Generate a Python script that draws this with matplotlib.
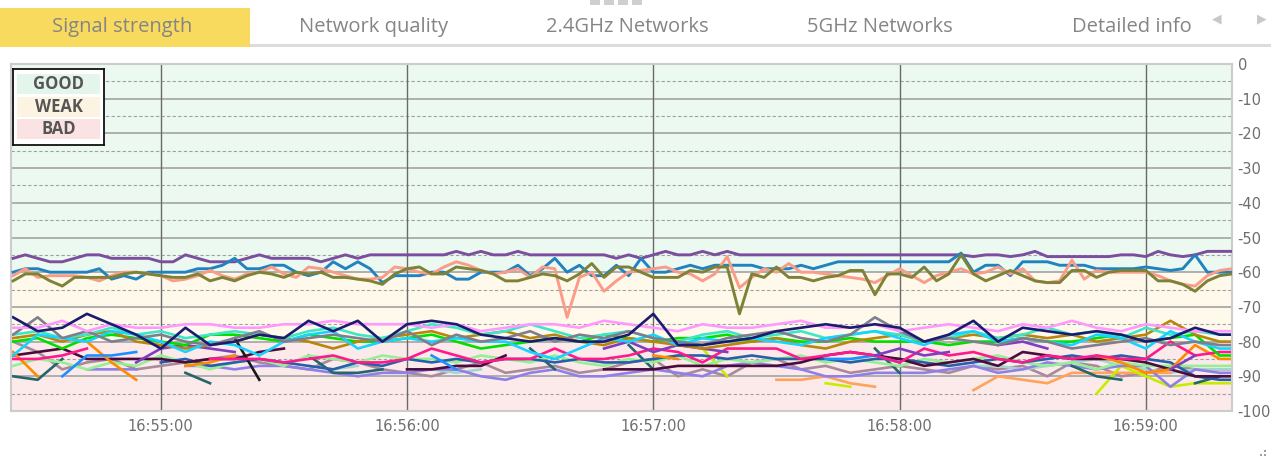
import numpy as np
import pandas as pd
import matplotlib
matplotlib.use("Agg")
import matplotlib.pyplot as plt
import matplotlib.dates as mdates
from matplotlib.patches import Rectangle

nan = np.nan

# tabs across the top
tab_labels = ["Signal strength", "Network quality", "2.4GHz Networks", "5GHz Networks", "Detailed info"]
tab_centers = [122, 374, 627, 880, 1132]

# signal bands (dBm)
band_names = ["GOOD", "WEAK", "BAD"]
band_edges = [0, -60, -80, -100]
band_colors = ["#ebf9f1", "#fef9eb", "#fceaea"]
legend_colors = ["#e4f5ec", "#fdf3e2", "#fbe3e3"]

# time axis
t_fast = pd.date_range("2024-01-01 16:54:24", periods=100, freq="3s")
t_slow = pd.date_range("2024-01-01 16:54:24", periods=51, freq="6s")
minute_ticks = pd.date_range("2024-01-01 16:55:00", periods=5, freq="60s")
x_left = pd.Timestamp("2024-01-01 16:54:23.5")
x_right = pd.Timestamp("2024-01-01 16:59:21")
y_ticks = [0, -10, -20, -30, -40, -50, -60, -70, -80, -90, -100]

# strong networks, sampled every 3 s
purple = [-56, -55, -56, -57, -57, -56, -55, -55, -56, -56, -56, -56, -57, -57, -55, -56, -57, -57, -57, -56,
          -55, -56, -56, -56, -56, -57, -56, -55, -56, -55, -55, -55, -55, -55, -55, -55, -54, -55, -54, -55,
          -55, -54, -55, -55, -55, -55, -55, -55, -55, -56, -55, -56, -55, -54, -55, -55, -54, -55, -54, -55,
          -55, -55, -55, -55, -55, -55, -55, -55, -55, -55, -55, -55, -55, -55, -55, -55, -55, -55, -55.5, -55,
          -55, -55.5, -55, -54, -55.5, -55.5, -55.5, -55.5, -55.5, -55.5, -55, -55, -55.5, -54, -55, -55.5, -55, -54, -54, -54]
blue = [-60, -59, -59, -60, -60, -60, -60, -59, -62, -61, -62, -60, -60, -60, -60, -59, -59, -58, -56, -59,
        -59, -58, -58, -60, -61, -60, -57, -59, -57, -59, -63, -61, -61, -61, -60, -60, -62, -62, -60, -60,
        -60, -58, -61, -59, -56, -60, -58, -61, -61, -58, -61, -56, -60, -60, -59, -58, -59, -58, -58, -58,
        -58, -59, -59, -59, -58, -59, -58, -57, -57, -57, -57, -57, -57, -57, -57, -57, -57, -54.5, -60, -58,
        -58, -61, -57, -57, -57, -58, -58, -58, -59, -59, -59, -59, -58.5, -59, -59.5, -59, -55, -60, -60, -60]
salmon = [-61, -59, -61.5, -61, -61, -61, -61.5, -62.5, -61, -60, -60, -60.5, -61, -62.5, -62, -61, -59.5, -61, -62, -60.5,
          -60, -58.5, -60.5, -61.5, -58.5, -59, -60, -61, -62, -62, -61.5, -58.5, -59, -60, -60.5, -58.5, -57, -58, -59.5, -60.5,
          -60, -59, -61.5, -58.5, -59, -73, -61.5, -60, -65.5, -62.5, -60, -59.5, -59, -58.5, -60, -60.5, -62.5, -60.5, -55.5, -64.5,
          -61.5, -59, -60, -57.5, -60, -60, -60.5, -61, -61.5, -62, -63, -61, -59, -61, -63, -61, -60, -59, -60.5, -60,
          -58.5, -60.5, -59, -62.5, -63, -62.5, -56.5, -62, -59.5, -60, -60, -60, -60, -61, -62.5, -63.5, -64, -61, -59.5, -59]
olive = [-62.5, -60.5, -60.5, -62.5, -64, -61.5, -61.5, -61.5, -61.5, -60.5, -60, -60.5, -61, -61.5, -61.5, -60.5, -62.5, -61.5, -62.5, -61,
         -60, -60.5, -61.5, -60, -60.5, -60, -61.5, -61.5, -62, -62.5, -63.5, -60.5, -59, -58.5, -60.5, -60.5, -58.5, -59, -59.5, -60.5,
         -62.5, -62.5, -61.5, -60.5, -61, -62.5, -60.5, -57.5, -61.5, -58.5, -58.5, -60, -61.5, -61.5, -61.5, -59.5, -60, -58.5, -58.5, -72,
         -60.5, -61.5, -58.5, -61.5, -61.5, -62.5, -61.5, -61, -59.5, -59.5, -66.5, -60.5, -60.5, -61.5, -58.5, -62.5, -60.5, -55, -60.5, -62.5,
         -61, -59.5, -61, -62.5, -63, -63, -59.5, -59.5, -61.5, -60, -59.5, -59.5, -59.5, -62.5, -62.5, -63.5, -65.5, -62.5, -61, -60.5]

# weak networks, sampled every 6 s
navy = [-73, -77, -76, -72, -75, -78, -82, -76, -81, -80, -78, -79, -74, -77, -74, -80, -75, -74, -75, -78, -79, -80, -79, -80, -80, -78,
        -72, -81, -81, -80, -79, -77, -76, -75, -76, -75, -76, -80, -78, -74, -80, -76, -77, -78, -77, -78, -80, -79, -76, -78, -78]
gray = [-78, -73, -79, -77, -80, -79, -78, -80, -81, -79, -77, -80, -79, -78, -79, -80, -77, -81, -78, -80, -79, -77, -80, -78, -79, -77,
        -79, -80, -81, -79, -78, -77, -79, -80, -78, -73, -77, -80, -79, -80, -81, -79, -80, -82, -81, -80, -79, -81, -80, -81, -81]
violet = [-76, -76, -74, -77, -75, -76, -76, -75, -75, -76, -76, -75, -75, -74, -75, -75, -75, -76, -75, -77, -76, -75, -75, -76, -74, -75,
          -76, -77, -75, -76, -76, -75, -74, -76, -76, -75, -77, -76, -75, -76, -77, -75, -76, -74, -76, -77, -75, -76, -77, -77, -77]
gold = [-79, -78, -80, -78, -77, -80, -81, -82, -81, -80, -78, -79, -80, -82, -80, -79, -78, -77, -79, -78, -77, -79, -78, -80, -81, -79,
        -80, -81, -82, -81, -80, -79, -81, -82, -80, -79, -78, -80, -79, -78, -79, -78, -79, -78, -80, -79, -78, -74, -78, -80, -80]
cyan = [-84, -78, -79, -80, -77, -78, -80, -83, -80, -81, -84, -80, -78, -77, -82, -80, -79, -80, -79, -80, -80, -83, -85, -82, -79, -80,
        -78, -81, -79, -80, -79, -80, -81, -79, -78, -77, -79, -81, -78, -77, -80, -79, -80, -81, -78, -79, -82, -77, -80, -82, -82]
lime = [-80, -79, -82, -79, -78, -79, -80, -81, -78, -78, -79, -80, -78, -79, -80, -80, -79, -78, -80, -82, -81, -80, -79, -80, -78, -79,
        -80, -79, -79, -78, -80, -79, -80, -80, -79, -80, -80, -80, -81, -80, -80, -79, -80, -80, -79, -78, -80, -79, -78, -84, -84]
turquoise = [-78, -77, -79, -78, -76, -78, -77, -79, -78, -77, -78, -79, -77, -76, -78, -79, -77, -75, -76, -78, -77, -75, -77, -79, -78, -77,
             -79, -80, -78, -77, -79, -78, -77, -79, -78, -77, -78, -80, -79, -77, -79, -78, -76, -78, -77, -79, -76, -78, -77, -78, -78]
hotpink = [-85, -85, -84, -82, nan, nan, nan, nan, -85, -85, -85, -86, -85, -84, -86, -86, -85, -82, -84, -86, -85, -85, -82, -85, -85, -84,
           -82, -83, -86, -82, -82, -82, -85, -84, -83, -84, -86, -82, -84, -83, -85, -86, -84, -85, -84, -85, -85, -80, -84, -83, -83]
maroon = [-84, -83, -82, -85, -85, -85, -85, -86, -85, -85, -83, -82, nan, nan, nan, nan, -88, -88, -87, -87, -84, nan, nan, nan, -88, -88,
          -88, -87, -87, -87, -87, -87, -86, -84, -83, -84, -85, -87, -86, -85, -87, -83, -84, -85, -85, -85, -86, -88, -90, -90, -90]
orange = [-83, -90, nan, -80, -86, -91, nan, -87, -86, -84, nan, nan, nan, nan, nan, nan, nan, nan, nan, nan, nan, nan, nan, nan, nan, nan,
          -84, -85, nan, nan, nan, nan, nan, nan, nan, nan, nan, nan, nan, nan, nan, nan, nan, nan, -84, -86, -89, -88, -81, -85, -85]
palegreen = [-87, -85, -86, -88, -86, -87, -84, -86, -88, -86, -85, -87, -84, -85, -86, -84, -85, -85, -86, -84, -85, -86, -84, -86, -87, -85,
             -86, -84, -87, -85, -86, -85, -84, -86, -85, -86, -87, -85, -86, -85, -84, -86, -87, -86, -88, -86, -87, -87, -87, -87, -87]
medpurple = [nan, nan, nan, -88, -88, -88, nan, -87, -87, -88, -87, -87, -88, -89, -90, -89, -89, -88, -88, -90, -91, -89, -88, -90, -90, -89,
             -88, -89, -90, -87, -86, -87, -88, -90, -90, -89, -89, -89, -88, -87, -89, -88, -86, -87, -88, -87, -87, -93, -88, -89, -89]
steel = [nan, nan, nan, nan, nan, nan, -86, -85, -87, -86, -85, -86, -87, -88, -86, -87, -85, -86, -85, -86, -85, -85, -86, -85, -86, -86,
         -85, -84, -84, -85, -84, -85, -85, -85, -86, -85, -85, -86, -87, -86, -85, -86, -85, -84, -85, -84, -85, -86, -90, -91, -91]
teal = [-90, -91, -85, nan, nan, nan, nan, -89, -92, nan, nan, nan, -84, -89, -89, -88, nan, nan, nan, nan, nan, -82, -88, nan, nan, -81,
        -88, nan, nan, nan, nan, nan, nan, nan, nan, -82, -89, nan, nan, nan, nan, nan, nan, -87, -90, -91, nan, nan, -92, -90, nan]
rosy = [-80, -83, -88, -86, -85, -88, -87, -86, -85, -84, -86, -87, -88, -85, -86, -88, -89, -90, -88, -86, -89, -88, -87, -89, -88, -86,
        -85, -90, -88, -90, -86, -85, -88, -87, -89, -88, -87, -88, -89, -87, -88, -87, -90, -86, -87, -90, -89, -87, -88, -88, -88]
paleturq = [nan, nan, nan, nan, nan, nan, nan, nan, nan, nan, nan, nan, -87, -88, -87, nan, -88, -88, -89, -88, nan, nan, nan, nan, nan, nan,
            nan, nan, nan, nan, nan, nan, nan, nan, nan, nan, nan, nan, nan, -87, -87, -88, -87, -86, -85, -87, -88, -89, -88, -88, -88]
sandy = [nan] * 31 + [-91, -91, -90, -92, -93, nan, nan, nan, -94, -90, -91, -92, -89, -89, -89, -89, -89, nan, nan, nan]
yellowgreen = [nan] * 28 + [-82, -90, nan, nan, nan, -92, -93, nan, nan, nan, nan, nan, nan, nan, nan, nan,
                            -95, -87, -90, -93, -92, -92, -92]
dodger = [nan, nan, -90, -84, -84, -83] + [nan] * 11 + [-84, -88] + [nan] * 14 + [-85, -85, -84, -86] + [nan] * 14
black = [nan] * 9 + [-79, -91] + [nan] * 40
darkviolet = ([nan] * 5 + [-86, -82, -81, -82, -83] + [nan] * 14 + [-82, -80, -83, -81, -82, -83] + [nan] * 5
              + [-84, -82, -84, -83] + [nan] + [-81, -80, -82] + [nan] * 4 + [-88, -84, nan, nan])

strong = [(purple, "#7b4f9e"), (blue, "#2282bf"), (salmon, "#fa9c88"), (olive, "#7d8236")]
weak = [(rosy, "#a88a9a"), (paleturq, "#a4d6d0"), (sandy, "#ffa35c"), (yellowgreen, "#c8ec00"),
        (medpurple, "#8f80e8"), (teal, "#24666a"), (palegreen, "#95f095"), (steel, "#2760a8"),
        (maroon, "#4a0c3c"), (orange, "#ff8a00"), (dodger, "#1f8fff"), (black, "#1a1a1a"),
        (hotpink, "#ff1a8c"), (darkviolet, "#7e3fbf"), (lime, "#00e000"), (gold, "#b8860b"),
        (turquoise, "#3ee6c8"), (cyan, "#17d4ff"), (gray, "#7e7e8e"), (violet, "#ff99ff"), (navy, "#1b1b70")]

W, H = 1271, 461
fig = plt.figure(figsize=(W / 100, H / 100), dpi=100)
fig.patch.set_facecolor("white")

ax = fig.add_axes([11 / W, 1 - 411 / H, (1232 - 11) / W, (411 - 64) / H])
for top, bottom, col in zip(band_edges[:-1], band_edges[1:], band_colors):
    ax.axhspan(bottom, top, color=col, lw=0, zorder=0)
for v in range(-95, 0, 5):
    if v % 10 == 0:
        ax.axhline(v, color="#a9a9a9", lw=1.3, zorder=1)
    else:
        ax.axhline(v, color="#a0a0a0", lw=0.8, ls=(0, (3, 2)), zorder=1)
for t in minute_ticks:
    ax.axvline(t, color="#6a6a6a", lw=1.0, zorder=1)

for vals, col in weak:
    ax.plot(t_slow, vals, color=col, lw=1.9, zorder=2)
for vals, col in strong:
    ax.plot(t_fast, vals, color=col, lw=2.1, zorder=3)

ax.set_xlim(x_left, x_right)
ax.set_ylim(-100, 0)
ax.yaxis.tick_right()
ax.set_yticks(y_ticks)
ax.set_yticklabels([str(v) for v in y_ticks])
ax.set_xticks(minute_ticks)
ax.xaxis.set_major_formatter(mdates.DateFormatter("%H:%M:%S"))
ax.tick_params(axis="both", length=0, labelsize=10.5, labelcolor="#6e6e6e")
ax.tick_params(axis="y", pad=4)
ax.tick_params(axis="x", pad=6)
for s in ax.spines.values():
    s.set_color("#cccccc")
    s.set_linewidth(1.5)

# legend box
leg = fig.add_axes([13 / W, 1 - 145 / H, 91 / W, 76 / H])
leg.set_xlim(0, 91)
leg.set_ylim(76, 0)
leg.set_xticks([])
leg.set_yticks([])
for s in leg.spines.values():
    s.set_color("#111111")
    s.set_linewidth(1.3)
rows = [(5, 25), (28, 48), (50, 70)]
for (y0, y1), name, col in zip(rows, band_names, legend_colors):
    leg.add_patch(Rectangle((4, y0), 83, y1 - y0, color=col, lw=0))
    leg.text(46, (y0 + y1) / 2, name, ha="center", va="center", fontsize=12,
             fontweight="bold", color="#555555", family="Open Sans")

# tab strip
fig.patches.append(Rectangle((0, 1 - 47 / H), 250 / W, 39 / H, transform=fig.transFigure,
                             color="#f8da5f", lw=0))
fig.patches.append(Rectangle((250 / W, 1 - 47 / H), 1 - 250 / W, 3 / H, transform=fig.transFigure,
                             color="#dcdcdc", lw=0))
for label, cx in zip(tab_labels, tab_centers):
    fig.text(cx / W, 1 - 27 / H, label, ha="center", va="center", fontsize=14.5,
             color="#858585", family="Open Sans")
fig.text(1217 / W, 1 - 19 / H, "◀", ha="center", va="center", fontsize=9, color="#c8c8c8")
fig.text(1262 / W, 1 - 19 / H, "▶", ha="center", va="center", fontsize=9, color="#c8c8c8")
for gx in [590, 604, 618, 632]:
    fig.patches.append(Rectangle((gx / W, 1 - 5 / H), 10 / W, 5 / H, transform=fig.transFigure,
                                 color="#cfcfcf", lw=0))
for dx, dy in [(1264, 452), (1260, 456), (1264, 456)]:
    fig.patches.append(Rectangle((dx / W, 1 - dy / H), 2 / W, 2 / H, transform=fig.transFigure,
                                 color="#a0a0a0", lw=0))

fig.savefig("out.png", dpi=100)
